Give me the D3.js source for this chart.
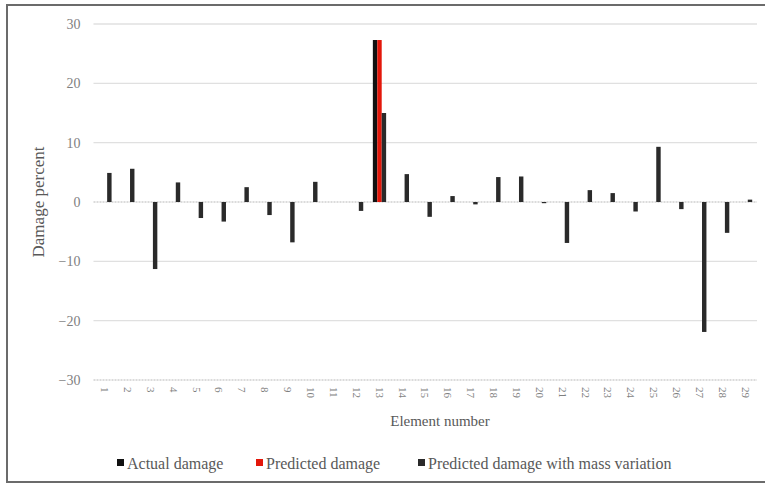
<!DOCTYPE html>
<html>
<head>
<meta charset="utf-8">
<script src="https://cdn.jsdelivr.net/npm/d3@7"></script>
<style>
  html, body { margin: 0; padding: 0; background: #fff; }
  svg { display: block; font-family: "Liberation Serif", "DejaVu Serif", serif; }
</style>
</head>
<body>
<svg id="chart" width="765" height="484"></svg>
<script>
// Element numbers along the horizontal axis
const elements = d3.range(1, 30).map(String);

// Damage percent per element for each series
const actualDamage = [0,0,0,0,0,0,0,0,0,0,0,0,27.3,0,0,0,0,0,0,0,0,0,0,0,0,0,0,0,0];
const predictedDamage = [0,0,0,0,0,0,0,0,0,0,0,0,27.3,0,0,0,0,0,0,0,0,0,0,0,0,0,0,0,0];
const massVariationDamage = [4.9,5.6,-11.3,3.3,-2.7,-3.3,2.5,-2.2,-6.8,3.4,0,-1.5,15.0,4.7,-2.5,1.0,-0.4,4.2,4.3,-0.2,-6.9,2.0,1.5,-1.6,9.3,-1.2,-21.9,-5.2,0.4];

const seriesNames = ["Actual damage", "Predicted damage", "Predicted damage with mass variation"];
const seriesColors = ["#111111", "#e3170a", "#2a2a2a"];
const seriesValues = [actualDamage, predictedDamage, massVariationDamage];

const yTicks = [-30, -20, -10, 0, 10, 20, 30];

const svg = d3.select("#chart");
const plot = { left: 93.5, right: 757, top: 24, bottom: 380 };

// Outer frame
svg.append("rect")
  .attr("x", 7).attr("y", 5)
  .attr("width", 765).attr("height", 477)
  .attr("fill", "none").attr("stroke", "#6b6b6b").attr("stroke-width", 2);

const x = d3.scaleBand().domain(elements).range([plot.left, plot.right]).paddingInner(0.42).paddingOuter(0.21);
const xSub = d3.scaleBand().domain(d3.range(3)).range([0, x.bandwidth()]).padding(0);
const y = d3.scaleLinear().domain([-30, 30]).range([plot.bottom, plot.top]);

// Horizontal gridlines
svg.append("g").selectAll("line").data(yTicks).join("line")
  .attr("x1", plot.left).attr("x2", plot.right)
  .attr("y1", d => y(d)).attr("y2", d => y(d))
  .attr("stroke", d => d === 0 || d === -30 ? "#cfcfcf" : "#e0e0e0")
  .attr("stroke-width", 1.3)
  .attr("stroke-dasharray", d => d === 0 || d === -30 ? "2,1" : null);

// Y axis labels
const yAxis = d3.axisLeft(y).tickValues(yTicks).tickSize(0).tickPadding(13);
const gy = svg.append("g").attr("transform", `translate(${plot.left},0)`).call(yAxis);
gy.select(".domain").remove();
gy.selectAll("text")
  .attr("fill", "#7f7f7f")
  .attr("font-size", 14)
  .attr("font-family", "Liberation Serif, serif");

// X axis labels, rotated
const xAxis = d3.axisBottom(x).tickSize(0).tickPadding(0);
const gx = svg.append("g").attr("transform", `translate(0,${plot.bottom})`).call(xAxis);
gx.select(".domain").remove();
gx.selectAll("text")
  .attr("fill", "#7f7f7f")
  .attr("font-size", 11)
  .attr("font-family", "Liberation Serif, serif")
  .attr("text-anchor", "start")
  .attr("dy", "0.35em")
  .attr("transform", "translate(0,7) rotate(90)");

// Bars
const groups = svg.append("g").selectAll("g").data(elements).join("g")
  .attr("transform", d => `translate(${x(d)},0)`);
groups.selectAll("rect")
  .data((d, i) => seriesValues.map((vals, s) => ({ s, v: vals[i] })))
  .join("rect")
  .attr("x", d => xSub(d.s))
  .attr("width", xSub.bandwidth())
  .attr("y", d => y(Math.max(0, d.v)))
  .attr("height", d => Math.abs(y(d.v) - y(0)))
  .attr("fill", d => seriesColors[d.s]);

// Axis titles
svg.append("text")
  .attr("transform", `translate(44,${y(0)}) rotate(-90)`)
  .attr("text-anchor", "middle")
  .attr("font-size", 17)
  .attr("fill", "#595959")
  .text("Damage percent");

svg.append("text")
  .attr("x", 440).attr("y", 426)
  .attr("text-anchor", "middle")
  .attr("font-size", 15)
  .attr("fill", "#595959")
  .text("Element number");

// Legend
const legendX = [117, 256, 418];
const legend = svg.append("g").selectAll("g").data(seriesNames).join("g")
  .attr("transform", (d, i) => `translate(${legendX[i]},463)`);
legend.append("rect")
  .attr("x", 0).attr("y", -4)
  .attr("width", 7).attr("height", 7)
  .attr("fill", (d, i) => seriesColors[i]);
legend.append("text")
  .attr("x", 10).attr("y", 0)
  .attr("dy", "0.35em")
  .attr("font-size", 16)
  .attr("fill", "#595959")
  .text(d => d);
</script>
</body>
</html>
